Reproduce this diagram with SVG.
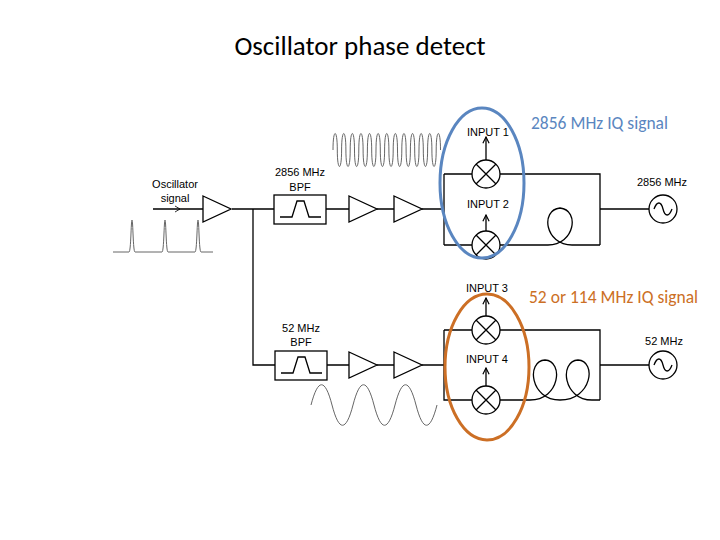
<svg xmlns="http://www.w3.org/2000/svg" width="720" height="540" viewBox="0 0 720 540">
<style>
.w{fill:none;stroke:#000;stroke-width:1.3}
.g{fill:none;stroke:#666;stroke-width:1}
.t{font-family:"Liberation Sans",Arial,sans-serif;font-size:11px;fill:#000;text-anchor:middle}
.mx{fill:#fff;stroke:#000;stroke-width:1.3}
</style>
<defs>
<marker id="a" viewBox="0 0 10 10" refX="9" refY="5" markerWidth="6" markerHeight="6" orient="auto"><path d="M1,1 L9,5 L1,9" fill="none" stroke="#000" stroke-width="1.5"/></marker>
<g id="mix"><circle r="14" class="mx"/><path d="M-10,-10 L10,10 M-10,10 L10,-10" class="w"/></g>
<g id="amp"><path d="M0,-13 L28,0 L0,13 Z" class="mx"/></g>
<g id="src"><circle r="14" class="mx"/><path d="M-9,0 C-6,-8 -2,-8 0,0 C2,8 6,8 9,0" class="w"/></g>
<g id="bpf"><rect x="0" y="0" width="52" height="29" class="mx"/><path d="M6,22 H18 L23,6 H30 L35,22 H47" class="w"/></g>
</defs>
<rect width="720" height="540" fill="#fff"/>
<text x="360" y="55" font-family="Carlito,Calibri,'Liberation Sans',sans-serif" font-size="27" text-anchor="middle">Oscillator phase detect</text>

<g id="connectors">
<path class="w" d="M153,209 H203 M232,209 H274 M253,209 V365 H275 M326,209 H349 M377,209 H394 M422,209 H444 M444,174 V245 M444,174 H472 M444,245 H472 M500,174 H600 V245 M600,209 H649"/>
<path class="w" d="M500,245 H548 C575,245 580,210 560,208 C540,210 545,245 572,245 H600"/>
<path class="w" d="M327,365 H349 M377,365 H394 M422,365 H444 M444,330 V400 H472 M444,330 H472 M500,330 H600 V400 M600,365 H649"/>
<path class="w" d="M500,400 H530 C560,400 564,361 545,360 C526,361 530,400 560,400 C592,400 597,361 578,360 C559,361 563,400 592,400 H600"/>
<path class="w" d="M486,160 V137" marker-end="url(#a)"/>
<path class="w" d="M486,231 V215" marker-end="url(#a)"/>
<path class="w" d="M486,316 V298" marker-end="url(#a)"/>
<path class="w" d="M486,386 V368" marker-end="url(#a)"/>
<path d="M175,206 L180,209 L175,212" fill="none" stroke="#000" stroke-width="0.8"/>
</g>

<g id="amp1"><use href="#amp" x="203" y="209"/></g>
<g id="bpf1"><use href="#bpf" x="274" y="195"/><text class="t" x="300" y="176">2856 MHz</text><text class="t" x="300" y="191" font-size="12">BPF</text></g>
<g id="amp2"><use href="#amp" x="349" y="209"/></g>
<g id="amp3"><use href="#amp" x="394" y="209"/></g>
<g id="mixer1"><use href="#mix" x="486" y="174"/><text class="t" x="488" y="136">INPUT 1</text></g>
<g id="mixer2"><use href="#mix" x="486" y="245"/><text class="t" x="488" y="208">INPUT 2</text></g>
<g id="src1"><use href="#src" x="663" y="209"/><text class="t" x="662" y="186">2856 MHz</text></g>

<g id="bpf2"><use href="#bpf" x="275" y="351"/><text class="t" x="301" y="332">52 MHz</text><text class="t" x="301" y="346" font-size="12">BPF</text></g>
<g id="amp4"><use href="#amp" x="349" y="365"/></g>
<g id="amp5"><use href="#amp" x="394" y="365"/></g>
<g id="mixer3"><use href="#mix" x="486" y="330"/><text class="t" x="487" y="292">INPUT 3</text></g>
<g id="mixer4"><use href="#mix" x="486" y="400"/><text class="t" x="487" y="363">INPUT 4</text></g>
<g id="src2"><use href="#src" x="663" y="365"/><text class="t" x="664" y="345">52 MHz</text></g>

<g id="osc"><text class="t" x="175" y="188">Oscillator</text><text class="t" x="175" y="202">signal</text></g>

<g id="waves">
<path class="g" d="M113,252 H129 C131,252 131,220 132,220 C133,220 133,252 135,252 H162 C164,252 164,220 165,220 C166,220 166,252 168,252 H195 C197,252 197,220 198,220 C199,220 199,252 201,252 H213"/>
<path class="g" d="M333,150 c0,-22 4.3,-22 4.3,0 s4.3,22 4.3,0 s4.3,-22 4.3,0 s4.3,22 4.3,0 s4.3,-22 4.3,0 s4.3,22 4.3,0 s4.3,-22 4.3,0 s4.3,22 4.3,0 s4.3,-22 4.3,0 s4.3,22 4.3,0 s4.3,-22 4.3,0 s4.3,22 4.3,0 s4.3,-22 4.3,0 s4.3,22 4.3,0 s4.3,-22 4.3,0 s4.3,22 4.3,0 s4.3,-22 4.3,0 s4.3,22 4.3,0 s4.3,-22 4.3,0 s4.3,22 4.3,0 s4.3,-22 4.3,0 s4.3,22 4.3,0 s4.3,-22 4.3,0 s4.3,22 4.3,0 s4.3,-22 4.3,0"/>
<path class="g" d="M311,405 C318,378 325,378 332,405 S346,432 353,405 S367,378 374,405 S388,432 395,405 S409,378 416,405 S430,432 437,405"/>
</g>

<g id="groups">
<ellipse cx="482" cy="183" rx="42" ry="75" fill="none" stroke="#5a86c0" stroke-width="3"/>
<ellipse cx="487" cy="367" rx="42" ry="73" fill="none" stroke="#cc6f25" stroke-width="3"/>
<text x="531" y="129" font-family="Carlito,Calibri,'Liberation Sans',sans-serif" font-size="17.5" fill="#5a86c0">2856 MHz IQ signal</text>
<text x="529" y="303" font-family="Carlito,Calibri,'Liberation Sans',sans-serif" font-size="17.5" fill="#cc6f25">52 or 114 MHz IQ signal</text>
</g>
</svg>
